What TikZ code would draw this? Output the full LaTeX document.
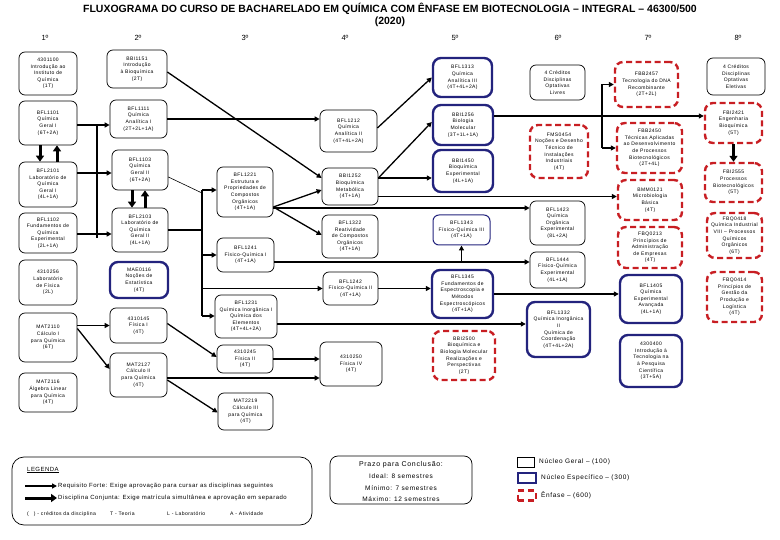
\documentclass[tikz,border=0pt]{standalone}
\usepackage{fontspec}
\setmainfont{Liberation Sans}
\newfontfamily\nf[LetterSpace=8]{Liberation Sans}
\newfontfamily\lsf[LetterSpace=10]{Liberation Sans}
\usetikzlibrary{arrows.meta}
\definecolor{nblue}{RGB}{35,35,125}
\definecolor{ered}{RGB}{200,30,35}
\newcommand{\mkbox}[7]{\node[#1, minimum width={#5pt-#3pt}, minimum height={#6pt-#4pt}] (#2) at ({(#3+#5)/2},{(#4+#6)/2}) {#7};}
\begin{document}
\begin{tikzpicture}[x=1pt,y=-1pt,
 gbox/.style={draw, line width=0.7pt, rounded corners=6pt, align=center, inner sep=0.5pt, font=\nf\fontsize{5}{6.6}\selectfont},
 bbox/.style={gbox, draw=nblue, line width=2.4pt, rounded corners=8pt},
 tbbox/.style={gbox, draw=nblue, line width=1pt},
 rbox/.style={gbox, draw=ered, line width=2.4pt, dash pattern=on 6pt off 3.5pt, rounded corners=8pt},
 ln/.style={line width=1.3pt},
 thinln/.style={line width=0.6pt},
 req/.style={ln, -{Triangle[length=5pt,width=5pt]}},
 conj/.style={line width=3pt, -{Triangle[length=6pt,width=8pt]}},
 lt/.style={anchor=west, inner sep=0pt, font=\nf\fontsize{6}{7}\selectfont},
 lts/.style={anchor=west, inner sep=0pt, font=\nf\fontsize{5.1}{6}\selectfont},
 kt/.style={anchor=west, inner sep=0pt, font=\lsf\fontsize{6.5}{8}\selectfont},
 hd/.style={font=\fontsize{7.5}{9}\selectfont, inner sep=0pt},
]
\useasboundingbox (0,0) rectangle (780,540);

% title
\node[font=\bfseries\fontsize{10.5}{13}\selectfont, inner sep=0pt] (title) at (390,9) {FLUXOGRAMA DO CURSO DE BACHARELADO EM QUÍMICA COM ÊNFASE EM BIOTECNOLOGIA – INTEGRAL – 46300/500};
\node[font=\bfseries\fontsize{10.5}{13}\selectfont, inner sep=0pt] (year) at (390,22) {(2020)};
\node[hd] (h1) at (45,38) {1º};
\node[hd] (h2) at (138,38) {2º};
\node[hd] (h3) at (245,38) {3º};
\node[hd] (h4) at (345,38) {4º};
\node[hd] (h5) at (455,38) {5º};
\node[hd] (h6) at (558,38) {6º};
\node[hd] (h7) at (648,38) {7º};
\node[hd] (h8) at (738,38) {8º};

% column 1
\mkbox{gbox}{a1}{19}{52}{77}{95}{4301100\\Introdução ao\\Instituto de\\Química\\(1T)}
\mkbox{gbox}{a2}{19}{101}{77}{145}{BFL1101\\Química\\Geral I\\(6T+2A)}
\mkbox{gbox}{a3}{19}{162}{77}{207}{BFL2101\\Laboratório de\\Química\\Geral I\\(4L+1A)}
\mkbox{gbox}{a4}{19}{213}{77}{253}{BFL1102\\Fundamentos de\\Química\\Experimental\\(2L+1A)}
\mkbox{gbox}{a5}{19}{260}{77}{305}{4310256\\Laboratório\\de Física\\(2L)}
\mkbox{gbox}{a6}{19}{313}{77}{362}{MAT2110\\Cálculo I\\para Química\\(6T)}
\mkbox{gbox}{a7}{19}{373}{77}{412}{MAT2116\\Álgebra Linear\\para Química\\(4T)}

% column 2
\mkbox{gbox}{b1}{107}{50}{167}{88}{BBI1151\\Introdução\\à Bioquímica\\(2T)}
\mkbox{gbox}{b2}{110}{100}{167}{138}{BFL1111\\Química\\Analítica I\\(2T+2L+1A)}
\mkbox{gbox}{b3}{112}{150}{168}{190}{BFL1103\\Química\\Geral II\\(6T+2A)}
\mkbox{gbox}{b4}{112}{208}{168}{252}{BFL2103\\Laboratório de\\Química\\Geral II\\(4L+1A)}
\mkbox{bbox}{b5}{110}{262}{168}{298}{MAE0116\\Noções de\\Estatística\\(4T)}
\mkbox{gbox}{b6}{110}{308}{167}{343}{4310145\\Física I\\(4T)}
\mkbox{gbox}{b7}{110}{353}{167}{397}{MAT2127\\Cálculo II\\para Química\\(4T)}

% column 3
\mkbox{gbox}{c1}{217}{167}{273}{217}{BFL1221\\Estrutura e\\Propriedades de\\Compostos\\Orgânicos\\(4T+1A)}
\mkbox{gbox}{c2}{217}{238}{274}{272}{BFL1241\\Físico-Química I\\(4T+1A)}
\mkbox{gbox}{c3}{215}{295}{277}{338}{BFL1231\\Química Inorgânica I\\Química dos\\Elementos\\(4T+4L+2A)}
\mkbox{gbox}{c4}{217}{345}{273}{373}{4310245\\Física II\\(4T)}
\mkbox{gbox}{c5}{218}{393}{273}{430}{MAT2219\\Cálculo III\\para Química\\(4T)}

% column 4
\mkbox{gbox}{d1}{320}{110}{377}{152}{BFL1212\\Química\\Analítica II\\(4T+4L+2A)}
\mkbox{gbox}{d2}{322}{168}{378}{205}{BBI1252\\Bioquímica\\Metabólica\\(4T+1A)}
\mkbox{gbox}{d3}{322}{215}{378}{258}{BFL1322\\Reatividade\\de Compostos\\Orgânicos\\(4T+1A)}
\mkbox{gbox}{d4}{323}{272}{378}{305}{BFL1242\\Físico-Química II\\(4T+1A)}
\mkbox{gbox}{d5}{320}{342}{382}{386}{4310250\\Física IV\\(4T)}

% column 5
\mkbox{bbox}{e1}{433}{58}{492}{97}{BFL1313\\Química\\Analítica III\\(4T+4L+2A)}
\mkbox{bbox}{e2}{433}{105}{493}{145}{BBI1256\\Biologia\\Molecular\\(3T+1L+1A)}
\mkbox{bbox}{e3}{433}{150}{493}{192}{BBI1450\\Bioquímica\\Experimental\\(4L+1A)}
\mkbox{tbbox}{e4}{433}{215}{490}{245}{BFL1343\\Físico-Química III\\(4T+1A)}
\mkbox{bbox}{e5}{432}{270}{493}{318}{BFL1345\\Fundamentos de\\Espectroscopia e\\Métodos\\Espectroscópicos\\(4T+1A)}
\mkbox{rbox}{e6}{433}{331}{495}{380}{BBI2500\\Bioquímica e\\Biologia Molecular\\Realizações e\\Perspectivas\\(2T)}

% column 6
\mkbox{gbox}{f1}{530}{65}{585}{100}{4 Créditos\\Disciplinas\\Optativas\\Livres}
\mkbox{rbox}{f2}{530}{125}{588}{178}{FMS0454\\Noções e Desenho\\Técnico de\\Instalações\\Industriais\\(4T)}
\mkbox{gbox}{f3}{530}{201}{585}{245}{BFL1423\\Química\\Orgânica\\Experimental\\(8L+2A)}
\mkbox{gbox}{f4}{530}{252}{585}{288}{BFL1444\\Físico-Química\\Experimental\\(4L+1A)}
\mkbox{bbox}{f5}{527}{302}{590}{357}{BFL1332\\Química Inorgânica\\II\\Química de\\Coordenação\\(4T+4L+2A)}

% column 7
\mkbox{rbox}{g1}{615}{62}{678}{107}{FBB2457\\Tecnologia do DNA\\Recombinante\\(2T+2L)}
\mkbox{rbox}{g2}{617}{123}{682}{173}{FBB2450\\Técnicas Aplicadas\\ao Desenvolvimento\\de Processos\\Biotecnológicos\\(2T+4L)}
\mkbox{rbox}{g3}{618}{180}{682}{220}{BMM0121\\Microbiologia\\Básica\\(4T)}
\mkbox{rbox}{g4}{618}{227}{682}{268}{FBQ0213\\Princípios de\\Administração\\de Empresas\\(4T)}
\mkbox{bbox}{g5}{620}{275}{682}{323}{BFL1405\\Química\\Experimental\\Avançada\\(4L+1A)}
\mkbox{bbox}{g6}{620}{335}{682}{387}{4300400\\Introdução à\\Tecnologia na\\à Pesquisa\\Científica\\(3T+5A)}

% column 8
\mkbox{gbox}{k1}{707}{58}{765}{95}{4 Créditos\\Disciplinas\\Optativas\\Eletivas}
\mkbox{rbox}{k2}{705}{103}{762}{143}{FBI2421\\Engenharia\\Bioquímica\\(5T)}
\mkbox{rbox}{k3}{705}{163}{762}{202}{FBI2555\\Processos\\Biotecnológicos\\(5T)}
\mkbox{rbox}{k4}{707}{213}{762}{258}{FBQ0418\\Química Industrial\\VIII – Processos\\Químicos\\Orgânicos\\(6T)}
\mkbox{rbox}{k5}{707}{272}{762}{322}{FBQ0414\\Princípios de\\Gestão da\\Produção e\\Logística\\(4T)}

% ---------- connectors ----------
% bus 1
\coordinate (p1) at (97,125);
\coordinate (p2) at (97,173);
\coordinate (p3) at (97,234);
\draw[ln] (a2.east |- p1) -- (p1);
\draw[ln] (a3.east |- p2) -- (p2);
\draw[ln] (a4.east |- p3) -- (p3);
\draw[ln] (p1) -- ([yshift=-4pt]p3);
\draw[req] (p1) -- (b2.west |- p1);
\draw[req] (p2) -- (b3.west |- p2);
\draw[req] (p3) -- (b4.west |- p3);

% conjunta
\draw[conj] ([xshift=-8pt]a2.south) -- ([xshift=-8pt]a3.north);
\draw[conj] ([xshift=9pt]a3.north) -- ([xshift=9pt]a2.south);
\draw[conj] ([xshift=-8pt]b3.south) -- ([xshift=-8pt]b4.north);
\draw[conj] ([xshift=5pt]b4.north) -- ([xshift=5pt]b3.south);
\draw[conj] (k2.south) -- (k3.north);

% calculo / fisica
\draw[req] (a6.east |- b6.west) -- (b6.west);
\draw[req] ([yshift=-3pt]a6.east |- b6.west) -- ([yshift=6pt]b7.west);
\draw[req] ([yshift=2pt]b6.east) -- ([yshift=2pt]c4.west);
\draw[req] ([yshift=-5pt]b7.east) -- ([yshift=-1pt]c5.west);
\coordinate (m1) at (167,378);
\draw[req] (m1) -- (m1 -| d5.west);
\draw[req] (c4.east) -- (c4.east -| d5.west);

% 2nd semester to 4th
\draw[req] ([yshift=-3pt]b1.east) -- ([yshift=8.5pt]d2.west);
\draw[req] (b2.east) -- (b2.east -| d1.west);

% bus 2
\coordinate (q1) at (202,190);
\coordinate (q4) at (202,316);
\draw[thinln] ([yshift=-7pt]b3.east) -- ([yshift=-3pt]q1);
\draw[ln] (b4.east) -- (b4.east -| q1);
\draw[ln] (q1) -- (q4);
\draw[req] (q1) -- (q1 -| c1.west);
\draw[req] (c2.west -| q1) -- (c2.west);
\draw[req] (d4.west -| q1) -- (d4.west);
\draw[req] (q4) -- (q4 -| c3.west);

% from BFL1221
\draw[req] ([yshift=-15pt]c1.east) -- ([yshift=-3.5pt]d2.west);
\draw[req] ([yshift=-15pt]c1.east) -- ([yshift=1.5pt]d3.west);
\draw[req] ([yshift=-16pt]c1.east) -- ([yshift=-16pt]c1.east -| f3.west);

% from BFL1241
\coordinate (r1) at (274,262);
\draw[req] (r1) -- (r1 -| f4.west);
\draw[req] (r1 -| e4.south) -- (e4.south);

% 4th -> 5th
\draw[req] ([yshift=3pt]d1.east) -- (e1.west);
\draw[req] ([yshift=8.5pt]d2.east) -- ([yshift=3pt]e2.west);
\draw[req] ([yshift=8.5pt]d2.east) -- ([yshift=8.5pt]d2.east -| e3.west);
\draw[req] ([yshift=-10pt]d2.east) -- ([yshift=-10pt]d2.east -| g3.west);
\draw[req] (d4.east) -- (d4.east -| e5.west);
\draw[req] (e5.east) -- (e5.east -| g5.west);
\draw[req] ([yshift=-7.5pt]c3.east) -- ([yshift=-7.5pt]c3.east -| f5.west);

% BBI1256 -> 7th/8th
\coordinate (s1) at (602,116);
\draw[req] ([yshift=9pt]e2.east) -- ([yshift=9pt]e2.east -| k2.west);
\draw[ln] (s1 |- g1.west) -- (s1 |- g2.west);
\draw[req] (s1 |- g1.west) -- (g1.west);
\draw[req] (s1 |- g2.west) -- (g2.west);

% ---------- legend ----------
\node[draw, line width=0.7pt, rounded corners=12pt, minimum width=300pt, minimum height=68pt] (leg) at (162,491) {};
\node[lt] (legt) at (27,470) {\underline{LEGENDA}};
\coordinate (l1a) at (25,486);
\coordinate (l1b) at (57,486);
\coordinate (l2a) at (25,498);
\coordinate (l2b) at (57,498);
\draw[req] (l1a) -- (l1b);
\draw[conj] (l2a) -- (l2b);
\node[lt] (l1t) at (58,486) {Requisito Forte: Exige aprovação para cursar as disciplinas seguintes};
\node[lt] (l2t) at (58,498) {Disciplina Conjunta: Exige matrícula simultânea e aprovação em separado};
\node[lts] (l3a) at (27,514) {(\hspace{5pt}) - créditos da disciplina};
\node[lts] (l3b) at (110,514) {T - Teoria};
\node[lts] (l3c) at (167,514) {L - Laboratório};
\node[lts] (l3d) at (230,514) {A - Atividade};

% prazo
\node[draw, line width=0.7pt, rounded corners=8pt, minimum width=142pt, minimum height=48pt] (prazo) at (401,480) {};
\node[kt, anchor=center, font=\lsf\fontsize{7}{8}\selectfont] (pz1) at (401,465) {Prazo para Conclusão:};
\node[kt, anchor=center] (pz2) at (401,476) {Ideal: 8 semestres};
\node[kt, anchor=center] (pz3) at (401,488) {Mínimo: 7 semestres};
\node[kt, anchor=center] (pz4) at (401,499) {Máximo: 12 semestres};

% key
\node[draw, line width=0.7pt, minimum width=17pt, minimum height=10pt, inner sep=0pt] (key1) at (525.5,462) {};
\node[draw=nblue, line width=2.6pt, minimum width=18pt, minimum height=10pt, inner sep=0pt] (key2) at (527,478) {};
\node[draw=ered, line width=2.6pt, dash pattern=on 6pt off 4pt, minimum width=18pt, minimum height=10pt, inner sep=0pt] (key3) at (527,495.5) {};
\node[kt] (kt1) at (539,462) {Núcleo Geral – (100)};
\node[kt] (kt2) at (541,478) {Núcleo Específico – (300)};
\node[kt] (kt3) at (541,495) {Ênfase – (600)};
\end{tikzpicture}
\end{document}
